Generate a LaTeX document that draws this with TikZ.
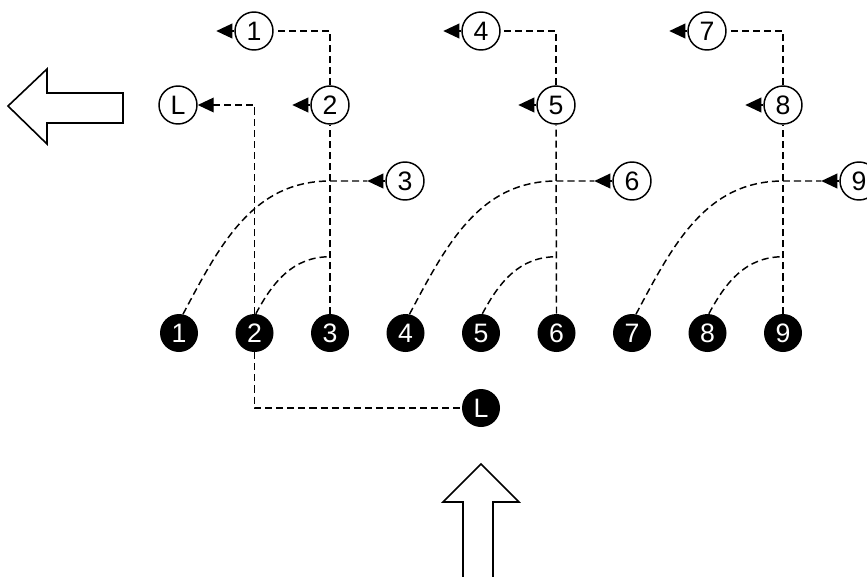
\documentclass[tikz,border=0pt]{standalone}
\usepackage{fontspec}
\setmainfont{Liberation Sans}
\usetikzlibrary{positioning,calc,arrows.meta}
\tikzset{
    blk/.style={circle, fill=black, text=white, minimum size=28.5pt, inner sep=0pt, font=\fontsize{20}{22}\selectfont},
    wht/.style={circle, draw, line width=1.1pt, fill=white, minimum size=28.5pt, inner sep=0pt, font=\fontsize{20}{22}\selectfont},
    link/.style={dash pattern=on 5.3pt off 3pt, line width=1.1pt},
    pointer/.style={-{Triangle[length=12pt,width=11pt]}, line width=1.1pt},
    hollow/.style={draw, line width=1.2pt, fill=white}
}
\begin{document}
\begin{tikzpicture}[x=0.75pt,y=-0.75pt]
    \useasboundingbox (0,0) rectangle (867,576);
    \clip (0,0) rectangle (867,576);
    % Big arrows
    \draw[hollow] (8,106) -- (47,69) -- (47,93) -- (123,93) -- (123,123) -- (47,123) -- (47,144) -- cycle;
    \draw[hollow] (481,464) -- (519,502) -- (493,502) -- (493,590) -- (463,590) -- (463,502) -- (443,502) -- cycle;

    % Bottom row
    \node[blk] (b1) at (179,333) {1};
    \node[blk] (b2) at (254.5,333) {2};
    \node[blk] (b3) at (330,333) {3};
    \node[blk] (b4) at (405.5,333) {4};
    \node[blk] (b5) at (481,333) {5};
    \node[blk] (b6) at (556.5,333) {6};
    \node[blk] (b7) at (632,333) {7};
    \node[blk] (b8) at (707.5,333) {8};
    \node[blk] (b9) at (783,333) {9};
    \node[blk] (bL) at (481,408) {L};

    % Top rows
    \node[wht] (wL) at (178,105) {L};
    \node[wht] (w1) at (254,31) {1};
    \node[wht] (w2) at (330,105) {2};
    \node[wht] (w3) at (405,181) {3};
    \node[wht] (w4) at (481,31) {4};
    \node[wht] (w5) at (556,105) {5};
    \node[wht] (w6) at (632,181) {6};
    \node[wht] (w7) at (707,31) {7};
    \node[wht] (w8) at (783,105) {8};
    \node[wht] (w9) at (859,181) {9};
    \foreach \n in {1,...,9}
        \draw[pointer] (w\n.west) -- ++(-18,0) coordinate (t\n);

    % Links
    \draw[link] (b2.south) |- (bL.west);
    \draw[link, pointer] (b2.north) |- (wL.east);
    \foreach \a/\b/\c in {1/2/3, 4/5/6, 7/8/9} {
        \draw[link] (b\c.north) -- (w\b.south);
        \draw[link] (w\b.north) |- (w\a.east);
        \draw[link] (b\a.78) to[out=62,in=180] (b\c |- w\c) -- (t\c);
        \draw[link] (b\b.86) to[out=62,in=180] ($(b\c.north)+(0,-57)$);
    }
\end{tikzpicture}
\end{document}
